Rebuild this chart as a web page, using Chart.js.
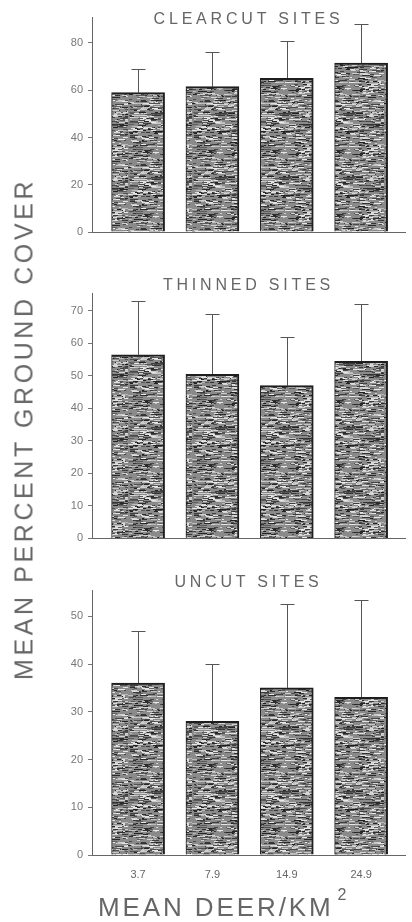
<!DOCTYPE html>
<html>
<head>
<meta charset="utf-8">
<title>Mean percent ground cover</title>
<script src="https://cdn.jsdelivr.net/npm/chart.js@4.4.0/dist/chart.umd.min.js"></script>
<style>
  body { margin: 0; background: #fff; font-family: "Liberation Sans", Arial, sans-serif; }
  #page { position: relative; width: 412px; height: 922px; overflow: hidden; }
  canvas { position: absolute; left: 0; }
  .ttl { position: absolute; left: 92px; width: 313px; text-align: center; color: #666;
         font-size: 16px; letter-spacing: 3.8px; line-height: 16px; }
  #ytitle { position: absolute; left: 24px; top: 429px; transform: translate(-50%, -50%) rotate(-90deg);
            white-space: nowrap; font-size: 25px; letter-spacing: 3.6px; color: #666; }
  #xtitle { position: absolute; left: 98px; top: 893px; white-space: nowrap; font-size: 26px;
            letter-spacing: 2.9px; color: #666; line-height: 28px; }
  #xtitle sup { font-size: 16px; letter-spacing: 0; vertical-align: 0; position: relative; top: -16px; margin-left: 4px; }
</style>
</head>
<body>
<div id="page">
  <canvas id="clearcut" width="412" height="250" style="top:0px"></canvas>
  <canvas id="thinned" width="412" height="300" style="top:250px"></canvas>
  <canvas id="uncut" width="412" height="372" style="top:550px"></canvas>
  <div class="ttl" style="top:11px">CLEARCUT SITES</div>
  <div class="ttl" style="top:277px">THINNED SITES</div>
  <div class="ttl" style="top:574px">UNCUT SITES</div>
  <div id="ytitle">MEAN PERCENT GROUND COVER</div>
  <div id="xtitle">MEAN DEER/KM<sup>2</sup></div>
</div>
<script>
'use strict'

// deer density classes (x axis)
const deerLabels = ['3.7', '7.9', '14.9', '24.9']

// mean % ground cover and top of the error bar, per site type
const clearcutMeans = [59, 61.5, 65, 71.5]
const clearcutUpper = [69, 76, 81, 88]
const thinnedMeans = [56.5, 50.5, 47, 54.5]
const thinnedUpper = [73, 69, 62, 72]
const uncutMeans = [36, 28, 35, 33]
const uncutUpper = [47, 40, 52.5, 53.5]

// y tick labels per panel
const clearcutTicks = [0, 20, 40, 60, 80]
const thinnedTicks = [0, 10, 20, 30, 40, 50, 60, 70]
const uncutTicks = [0, 10, 20, 30, 40, 50]

// stippled fill like the printed figure
function makeTexture() {
    const c = document.createElement('canvas')
    c.width = 64
    c.height = 64
    const g = c.getContext('2d')
    g.fillStyle = '#8a8a8a'
    g.fillRect(0, 0, 64, 64)
    let seed = 7
    const rnd = () => { seed = (seed * 16807) % 2147483647; return seed / 2147483647 }
    for (let k = 0; k < 380; k++) {
        const shade = Math.floor(30 + rnd() * 70)
        g.fillStyle = 'rgb(' + shade + ',' + shade + ',' + shade + ')'
        g.fillRect(Math.floor(rnd() * 64), Math.floor(rnd() * 64), 2 + Math.floor(rnd() * 7), 1)
    }
    for (let k = 0; k < 240; k++) {
        const shade = Math.floor(185 + rnd() * 50)
        g.fillStyle = 'rgb(' + shade + ',' + shade + ',' + shade + ')'
        g.fillRect(Math.floor(rnd() * 64), Math.floor(rnd() * 64), 2 + Math.floor(rnd() * 6), 1)
    }
    return g.createPattern(c, 'repeat')
}
const texture = makeTexture()

// upper-only error bars
const errorBars = {
    id: 'errorBars',
    beforeDatasetsDraw(chart, args, opts) {
        const ctx = chart.ctx
        const x = chart.scales.x
        const y = chart.scales.y
        ctx.save()
        ctx.strokeStyle = '#555'
        ctx.lineWidth = 1
        opts.upper.forEach(function (u, i) {
            const px = Math.round(x.getPixelForValue(i)) + 0.5
            const top = Math.round(y.getPixelForValue(u)) + 0.5
            const base = y.getPixelForValue(chart.data.datasets[0].data[i].y)
            ctx.beginPath()
            ctx.moveTo(px, base)
            ctx.lineTo(px, top)
            ctx.moveTo(px - 7, top)
            ctx.lineTo(px + 7, top)
            ctx.stroke()
        })
        ctx.restore()
    }
}

function panel(id, means, upper, ticks, yMax, padTop, xHeight, showX) {
    return new Chart(document.getElementById(id), {
        type: 'bar',
        data: {
            datasets: [{
                data: means.map(function (v, i) { return { x: i, y: v } }),
                backgroundColor: texture,
                borderColor: '#1e1e1e',
                borderWidth: { top: 2, left: 1, right: 2, bottom: 0 },
                borderSkipped: false,
                barThickness: 53
            }]
        },
        options: {
            responsive: false,
            animation: false,
            devicePixelRatio: 1,
            layout: { padding: { top: padTop, right: 7, left: 0, bottom: 0 } },
            plugins: {
                legend: { display: false },
                tooltip: { enabled: false },
                errorBars: { upper: upper }
            },
            scales: {
                x: {
                    type: 'linear',
                    offset: false,
                    min: -0.62,
                    max: 3.59,
                    afterBuildTicks: function (s) { s.ticks = deerLabels.map(function (_, i) { return { value: i } }) },
                    afterFit: function (s) { s.height = xHeight },
                    grid: { display: false },
                    border: { display: true, color: '#666', width: 1 },
                    ticks: {
                        display: showX,
                        padding: 5,
                        color: '#666',
                        font: { family: 'Liberation Sans', size: 11 },
                        callback: function (v) { return deerLabels[v] }
                    }
                },
                y: {
                    min: 0,
                    max: yMax,
                    afterBuildTicks: function (s) { s.ticks = ticks.map(function (v) { return { value: v } }) },
                    afterFit: function (s) { s.width = 92 },
                    grid: { drawOnChartArea: false, tickLength: 4, color: '#777' },
                    border: { display: true, color: '#666', width: 1 },
                    ticks: {
                        padding: 5,
                        color: '#777',
                        font: { family: 'Liberation Sans', size: 11 }
                    }
                }
            }
        },
        plugins: [errorBars]
    })
}

panel('clearcut', clearcutMeans, clearcutUpper, clearcutTicks, 91, 17, 18, false)
panel('thinned', thinnedMeans, thinnedUpper, thinnedTicks, 75.5, 43, 7, false)
panel('uncut', uncutMeans, uncutUpper, uncutTicks, 55.5, 40, 67, true)
</script>
</body>
</html>
